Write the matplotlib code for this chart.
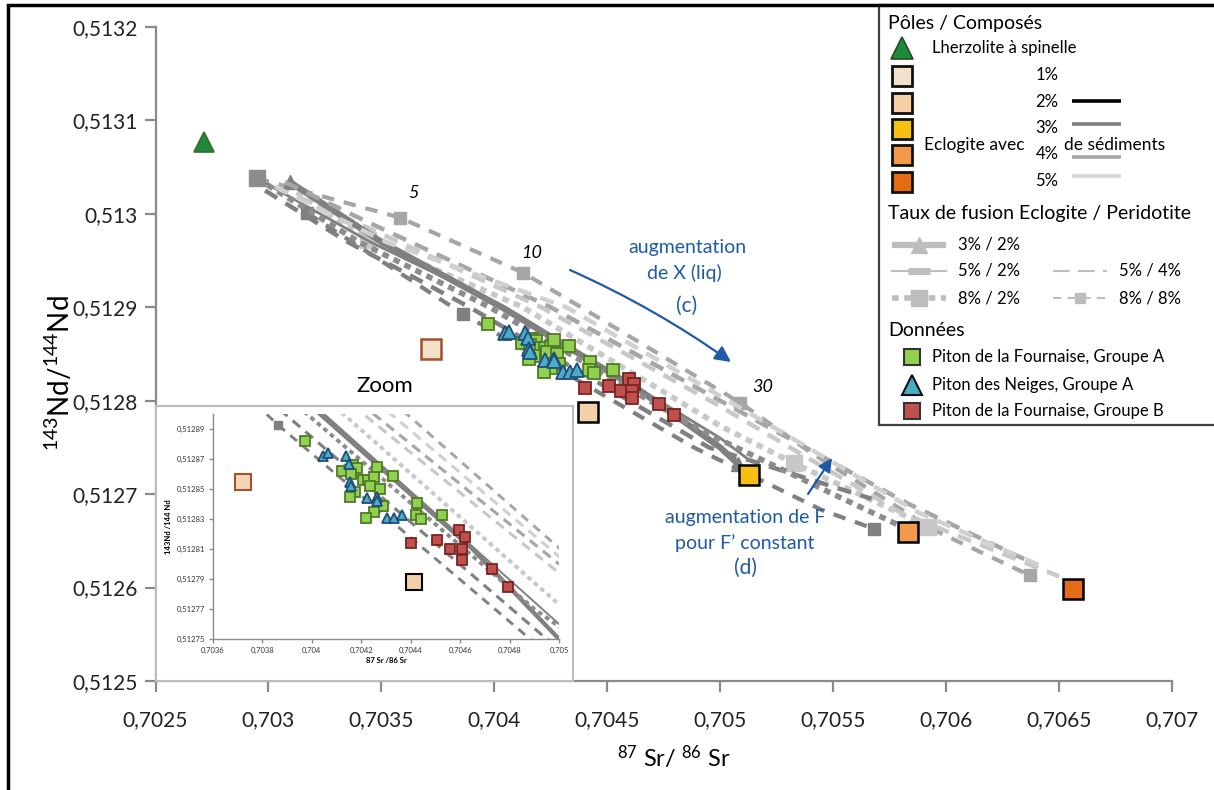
import matplotlib
matplotlib.use("Agg")
import matplotlib.pyplot as plt
from matplotlib.patches import Rectangle
from matplotlib.ticker import FuncFormatter

plt.rcParams['font.family'] = ['Lato', 'DejaVu Sans']
plt.rcParams['mathtext.fontset'] = 'custom'
plt.rcParams['mathtext.rm'] = 'Lato'
plt.rcParams['mathtext.default'] = 'regular'

W, H = 1214, 790

# ---- data -------------------------------------------------------------
lherz_x = [0.702715]
lherz_y = [0.513077]

eclog_labels = ['1%', '2%', '3%', '4%', '5%']
eclog_x = [0.70372, 0.704415, 0.705127, 0.705831, 0.706562]
eclog_y = [0.512855, 0.512788, 0.512721, 0.51266, 0.512598]

pdf_a_x = [0.703971, 0.704121, 0.704168, 0.704184, 0.704157, 0.704208, 0.704226,
           0.704251, 0.704264, 0.70433, 0.704235, 0.704276, 0.704175, 0.704154,
           0.704287, 0.704253, 0.704219, 0.704424, 0.70442, 0.70444, 0.704527]
pdf_a_y = [0.512882, 0.512862, 0.512866, 0.512864, 0.51286, 0.512856, 0.512856,
           0.512858, 0.512865, 0.512859, 0.512852, 0.51285, 0.512848, 0.512845,
           0.512839, 0.512835, 0.512831, 0.512841, 0.512833, 0.51283, 0.512833]

pdn_a_x = [0.704046, 0.704067, 0.704137, 0.70415, 0.704154, 0.704158, 0.704224,
           0.704262, 0.704262, 0.704303, 0.704334, 0.704366]
pdn_a_y = [0.512872, 0.512874, 0.512872, 0.512867, 0.512855, 0.512852, 0.512844,
           0.512845, 0.512842, 0.512831, 0.512831, 0.512833]

pdf_b_x = [0.704402, 0.704508, 0.704597, 0.704618, 0.70456, 0.704609, 0.704609,
           0.704729, 0.704795]
pdf_b_y = [0.512814, 0.512816, 0.512823, 0.512818, 0.51281, 0.51281, 0.512803,
           0.512797, 0.512785]

# mixing curves (87Sr/86Sr, 143Nd/144Nd)
curves_x = [
    [0.702949, 0.703582, 0.704127, 0.704384, 0.705087, 0.705398, 0.705951, 0.706371],
    [0.703029, 0.703441, 0.704208, 0.705, 0.7058, 0.7065],
    [0.703126, 0.703441, 0.704127, 0.705, 0.705327, 0.705921],
    [0.703095, 0.7035, 0.704033, 0.70465, 0.705, 0.70508],
    [0.702985, 0.70335, 0.703891, 0.70495, 0.70567],
    [0.703171, 0.703861, 0.704883, 0.70545, 0.70568],
    [0.702949, 0.70345, 0.70405, 0.705, 0.70512],
    [0.703073, 0.70345, 0.70425, 0.705, 0.70583, 0.70635],
    [0.702949, 0.7034, 0.70398, 0.7049, 0.7055, 0.70585],
    [0.703029, 0.70352, 0.70432, 0.705, 0.70588, 0.70645],
]
curves_y = [
    [0.513038, 0.512996, 0.512937, 0.5129, 0.512798, 0.512745, 0.512661, 0.512613],
    [0.513029, 0.512985, 0.5129, 0.512794, 0.51268, 0.512612],
    [0.513023, 0.512972, 0.5129, 0.512773, 0.512733, 0.512665],
    [0.513034, 0.51297, 0.5129, 0.51281, 0.51275, 0.512732],
    [0.513025, 0.51297, 0.5129, 0.51275, 0.512695],
    [0.513001, 0.512893, 0.51275, 0.512683, 0.512663],
    [0.513038, 0.51297, 0.5129, 0.51276, 0.512738],
    [0.513034, 0.51299, 0.5129, 0.5128, 0.51269, 0.51263],
    [0.513038, 0.51297, 0.5129, 0.51277, 0.5127, 0.51266],
    [0.513029, 0.51297, 0.5129, 0.512805, 0.51268, 0.51262],
]
# style key, colour, marker indices
curves_fmt = [
    ('8/8', '#a6a6a6', [1, 2, 4, 7]),
    ('5/4', '#c8c8c8', []),
    ('8/2', '#c8c8c8', [1, 4, 5]),
    ('3/2', '#808080', [0, 5]),
    ('5/4', '#808080', [4]),
    ('8/8', '#808080', [0, 1, 4]),
    ('5/2', '#808080', [0]),
    ('5/4', '#a6a6a6', []),
    ('8/2', '#8c8c8c', [0]),
    ('5/4', '#d0d0d0', [5]),
]

x_ticks = [0.7025, 0.703, 0.7035, 0.704, 0.7045, 0.705, 0.7055, 0.706, 0.7065, 0.707]
y_ticks = [0.5125, 0.5126, 0.5127, 0.5128, 0.5129, 0.513, 0.5131, 0.5132]
zx_ticks = [0.7036, 0.7038, 0.704, 0.7042, 0.7044, 0.7046, 0.7048, 0.705]
zy_ticks = [0.51275, 0.51277, 0.51279, 0.51281, 0.51283, 0.51285, 0.51287, 0.51289]

# ---- styles -----------------------------------------------------------
STYLES = {
    '3/2': dict(ls='-', lw=4.5, marker='^', ms=10),
    '5/2': dict(ls='-', lw=2.0, marker='s', ms=8),
    '5/4': dict(ls=(0, (3.2, 2.2)), lw=3.2),
    '8/2': dict(ls=(0, (1.2, 1.0)), lw=4.0, marker='s', ms=12),
    '8/8': dict(ls=(0, (3, 2.4)), lw=3.0, marker='s', ms=9),
}
ECL_COLORS = ['#f2e0c8', '#f5cfa5', '#f6c012', '#f39a4a', '#e46c14']
ECL_EDGES = ['#a0522d', 'black', 'black', 'black', 'black']
GREEN, GREEN_E = '#92d050', '#4f7a28'
BLUE, BLUE_E = '#4bacc6', '#1f4e79'
RED, RED_E = '#c0504d', '#7a2422'
ANN = '#1f5aa6'


def comma(v, pos):
    return f'{v:.6g}'.replace('.', ',')


def fp(x, y):
    return (x / W, 1 - y / H)


def draw_curves(a, k):
    for cx, cy, (st, col, marks) in zip(curves_x, curves_y, curves_fmt):
        s = STYLES[st]
        a.plot(cx, cy, ls=s['ls'], lw=s['lw'] * k, color=col,
               marker=s.get('marker', None), ms=s.get('ms', 0) * k,
               markevery=marks if marks else None, mec=col, mfc=col,
               solid_capstyle='butt', dash_capstyle='butt', zorder=2)


def draw_points(a, k):
    a.plot(pdf_a_x, pdf_a_y, 's', ms=8.5 * k, mfc=GREEN, mec=GREEN_E, mew=1.3, zorder=7)
    a.plot(pdn_a_x, pdn_a_y, '^', ms=9.5 * k, mfc=BLUE, mec=BLUE_E, mew=1.3, zorder=7)
    a.plot(pdf_b_x, pdf_b_y, 's', ms=8.5 * k, mfc=RED, mec=RED_E, mew=1.3, zorder=7)


fig = plt.figure(figsize=(W / 100, H / 100), dpi=100)
ax = fig.add_axes([155.5 / W, 1 - 681 / H, (1172 - 155.5) / W, (681 - 27) / H])

draw_curves(ax, 1.0)
draw_points(ax, 1.0)
ax.plot(lherz_x, lherz_y, '^', ms=15, mfc='#1e8a3c', mec='#3d6b2a', mew=1.2, zorder=8)
for i in range(len(eclog_x)):
    ax.plot(eclog_x[i], eclog_y[i], 's', ms=14, mfc=ECL_COLORS[i],
            mec=ECL_EDGES[i], mew=1.8, zorder=8)

ax.set_xlim(0.7025, 0.707)
ax.set_ylim(0.5125, 0.5132)
ax.set_xticks(x_ticks)
ax.set_yticks(y_ticks)
ax.xaxis.set_major_formatter(FuncFormatter(comma))
ax.yaxis.set_major_formatter(FuncFormatter(comma))
for s in ['top', 'right']:
    ax.spines[s].set_visible(False)
for s in ['left', 'bottom']:
    ax.spines[s].set_color('#8a8a8a')
    ax.spines[s].set_linewidth(1.6)
ax.tick_params(axis='both', colors='#8a8a8a', width=1.6, length=8, labelsize=15,
               labelcolor='#222222')
ax.tick_params(axis='x', pad=13)
ax.tick_params(axis='y', pad=5)
ax.set_xlabel('$^{87}$ Sr/ $^{86}$ Sr', fontsize=17)
ax.xaxis.set_label_coords(0.51, -0.095)
ax.set_ylabel('$^{143}$Nd/$^{144}$Nd', fontsize=20)
ax.yaxis.set_label_coords(-0.079, 0.47)

# zoom box inside main axes (covers the curves)
ax.add_patch(Rectangle(fp(155.5, 681), (573 - 155.5) / W, (681 - 406) / H,
                       transform=fig.transFigure, facecolor='white',
                       edgecolor='#bdbdbd', lw=1.5, zorder=5, clip_on=False))
fig.text(*fp(385, 386), 'Zoom', fontsize=16, ha='center', va='center')

# annotations
for t, (x, y) in zip(['5', '10', '30'], [(413, 193), (532, 253), (763, 387)]):
    fig.text(*fp(x, y), t, fontsize=13, style='italic', ha='center', va='center')
fig.text(*fp(687, 248), 'augmentation', color=ANN, fontsize=14, ha='center', va='center')
fig.text(*fp(684, 273), 'de X (liq)', color=ANN, fontsize=14, ha='center', va='center')
fig.text(*fp(687, 306), '(c)', color=ANN, fontsize=15, ha='center', va='center')
fig.text(*fp(745, 518), 'augmentation de F', color=ANN, fontsize=14, ha='center', va='center')
fig.text(*fp(745, 543), 'pour F\u2019 constant', color=ANN, fontsize=14, ha='center', va='center')
fig.text(*fp(745, 568), '(d)', color=ANN, fontsize=15, ha='center', va='center')
ax.annotate('', xy=fp(731, 362), xytext=fp(570, 270), xycoords='figure fraction',
            arrowprops=dict(arrowstyle='-|>', color=ANN, lw=1.6, mutation_scale=24,
                            connectionstyle='arc3,rad=-0.05', shrinkA=0, shrinkB=0))
ax.annotate('', xy=fp(832, 458), xytext=fp(808, 494), xycoords='figure fraction',
            arrowprops=dict(arrowstyle='-|>', color=ANN, lw=1.6, mutation_scale=20,
                            shrinkA=0, shrinkB=0))

# ---- inset --------------------------------------------------------------
ins = fig.add_axes([213 / W, 1 - 639 / H, (559 - 213) / W, (639 - 414) / H])
ins.patch.set_alpha(0)
ins.set_zorder(ax.get_zorder() + 1)
draw_curves(ins, 0.7)
draw_points(ins, 0.78)
for i in range(2):
    ins.plot(eclog_x[i], eclog_y[i], 's', ms=11, mfc=ECL_COLORS[i] if i else '#f5d5b5',
             mec=ECL_EDGES[i], mew=1.5, zorder=8, clip_on=False)
ins.set_xlim(0.7036, 0.705)
ins.set_ylim(0.51275, 0.5129)
ins.set_xticks(zx_ticks)
ins.set_yticks(zy_ticks)
ins.xaxis.set_major_formatter(FuncFormatter(comma))
ins.yaxis.set_major_formatter(FuncFormatter(comma))
for s in ['top', 'right']:
    ins.spines[s].set_visible(False)
for s in ['left', 'bottom']:
    ins.spines[s].set_color('#8a8a8a')
    ins.spines[s].set_linewidth(1.0)
ins.tick_params(axis='both', colors='#8a8a8a', width=1, length=3, labelsize=5.5,
                labelcolor='#333333', pad=3)
ins.set_xlabel('87 Sr /86 Sr', fontsize=5.5, fontweight='bold', labelpad=2)
ins.set_ylabel('143Nd /144 Nd', fontsize=5.5, fontweight='bold', labelpad=3)

# ---- legend box ---------------------------------------------------------
lax = fig.add_axes([878 / W, 1 - 430 / H, (W - 878) / W, 430 / H])
lax.set_xlim(878, W)
lax.set_ylim(430, 0)
lax.axis('off')
lax.add_patch(Rectangle((879, 5), 400, 420, facecolor='white', edgecolor='#404040',
                        lw=1.6, clip_on=False))

lax.text(888, 23, 'Pôles / Composés', fontsize=14, va='center')
lax.plot([902], [48], '^', ms=16, mfc='#1e8a3c', mec='#234d23', mew=1.2, clip_on=False)
lax.text(932, 48, 'Lherzolite à spinelle', fontsize=12, va='center')
leg_sq_y = [76, 103, 129, 155, 182]
for i, yy in enumerate(leg_sq_y):
    lax.plot([902], [yy], 's', ms=15, mfc=ECL_COLORS[i], mec='#111111', mew=2, clip_on=False)
    lax.text(1047, yy - 1, eclog_labels[i], fontsize=12, ha='center', va='center')
lax.text(924, 145, 'Eclogite avec', fontsize=12.5, va='center')
lax.text(1064, 145, 'de sédiments', fontsize=12.5, va='center')
for yy, c in zip([101, 124, 157, 176], ['black', '#808080', '#a6a6a6', '#d6d6d6']):
    lax.plot([1072, 1121], [yy, yy], color=c, lw=2.6, solid_capstyle='butt')

lax.text(888, 213, 'Taux de fusion Eclogite / Peridotite', fontsize=14, va='center')
LG = '#bdbdbd'
lax.plot([892, 919, 946], [245, 245, 245], color=LG, lw=4.5, marker='^', ms=11,
         markevery=[1], solid_capstyle='butt')
lax.text(958, 245, '3% / 2%', fontsize=12, va='center')
lax.plot([892, 946], [271, 271], color=LG, lw=1.5)
lax.plot([908, 930], [271, 271], color=LG, lw=5, solid_capstyle='butt')
lax.text(958, 271, '5% / 2%', fontsize=12, va='center')
lax.plot([892, 919, 946], [298, 298, 298], color=LG, lw=4, ls=(0, (1.2, 1.0)),
         marker='s', ms=11, markevery=[1])
lax.text(958, 298, '8% / 2%', fontsize=12, va='center')
lax.plot([1053, 1107], [271, 271], color=LG, lw=1.5, ls=(0, (8, 4)))
lax.text(1119, 271, '5% / 4%', fontsize=12, va='center')
lax.plot([1053, 1080, 1107], [298, 298, 298], color=LG, lw=1.5, ls=(0, (4, 3)),
         marker='s', ms=7, markevery=[1])
lax.text(1119, 298, '8% / 8%', fontsize=12, va='center')

lax.text(888, 330, 'Données', fontsize=14, va='center')
lax.plot([912], [357], 's', ms=11, mfc=GREEN, mec='#333333', mew=1.5)
lax.text(932, 357, 'Piton de la Fournaise, Groupe A', fontsize=12, va='center')
lax.plot([912], [385], '^', ms=14, mfc=BLUE, mec='#111111', mew=1.5)
lax.text(932, 385, 'Piton des Neiges, Groupe A', fontsize=12, va='center')
lax.plot([912], [411], 's', ms=11, mfc=RED, mec='#333333', mew=1.5)
lax.text(932, 411, 'Piton de la Fournaise, Groupe B', fontsize=12, va='center')

# outer frame of the figure
fig.add_artist(Rectangle((8 / W, -0.1), 2, 1.1 - 5 / H, transform=fig.transFigure,
                         fill=False, edgecolor='black', lw=2.5))

fig.savefig('out.png', dpi=100)
